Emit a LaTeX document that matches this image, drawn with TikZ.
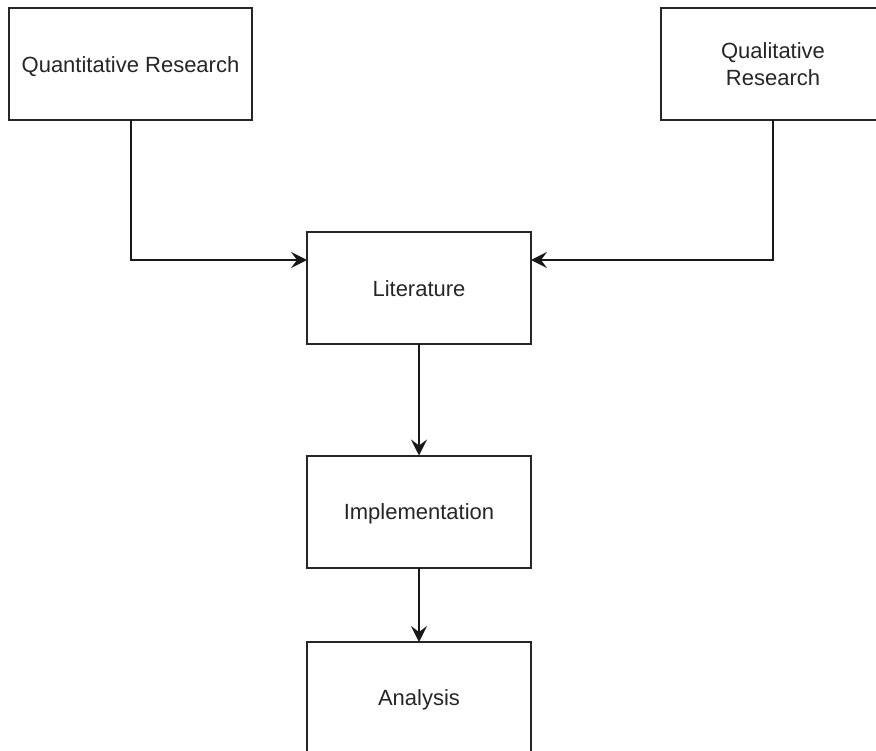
\documentclass[tikz,border=0pt]{standalone}
\usepackage{fontspec}
\setmainfont{Liberation Sans}
\usetikzlibrary{arrows.meta}
\begin{document}
\begin{tikzpicture}[x=1pt,y=-1pt,
  box/.style={draw=black!85, line width=2pt, fill=white, inner sep=0pt, outer sep=0pt,
    minimum width=224pt, minimum height=112pt, align=center, text depth=0pt,
    font=\fontsize{22}{27}\selectfont, text=black!85},
  conn/.style={draw=black!90, line width=2pt, -{Stealth[length=16pt,width=16pt,inset=6pt]}}]
\useasboundingbox (0,0) rectangle (876,751);
\node[box, minimum width=243pt] (quant) at (130.5,64.5) {Quantitative Research};
\node[box] (qual) at (773,64.5) {Qualitative\\Research};
\node[box] (lit) at (419,288.5) {Literature};
\node[box] (impl) at (419,511.5) {Implementation};
\node[box] (ana) at (419,698) {Analysis};
\draw[conn] (quant.south) |- ([yshift=28.5pt]lit.west);
\draw[conn] (qual.south) |- ([yshift=28.5pt]lit.east);
\draw[conn] (lit.south) -- (impl.north);
\draw[conn] (impl.south) -- (ana.north);
\end{tikzpicture}
\end{document}
